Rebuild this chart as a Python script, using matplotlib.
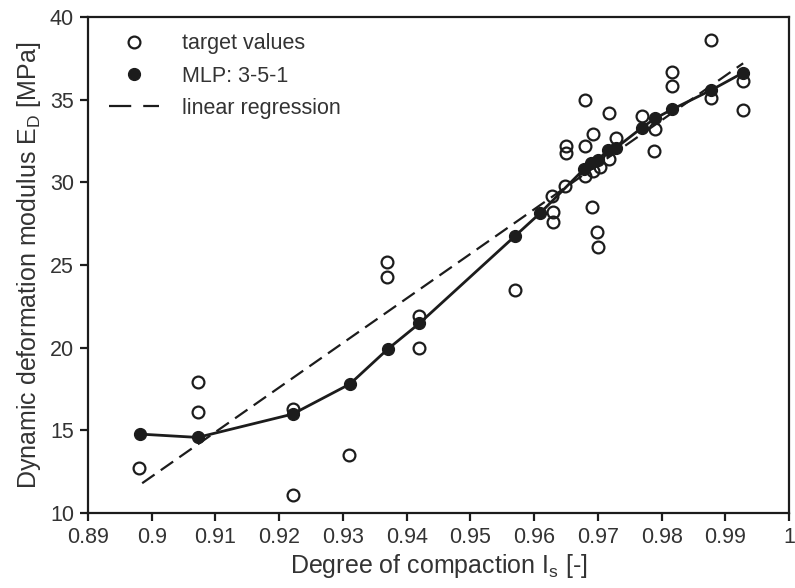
import matplotlib.pyplot as plt
from matplotlib.lines import Line2D
import numpy as np

plt.rcParams['font.family'] = 'Liberation Sans'
plt.rcParams['mathtext.fontset'] = 'custom'
plt.rcParams['mathtext.rm'] = 'Liberation Sans'
plt.rcParams['mathtext.it'] = 'Liberation Sans'

# target values (measured)
target_x = [0.898, 0.9072, 0.9072, 0.9221, 0.9221, 0.931, 0.9369, 0.9369, 0.9419, 0.9419,
            0.957, 0.9628, 0.963, 0.963, 0.9648, 0.965, 0.965, 0.968, 0.968, 0.968,
            0.9691, 0.9692, 0.9692, 0.9698, 0.970, 0.9703, 0.9718, 0.9718, 0.9729, 0.977,
            0.9789, 0.9788, 0.9817, 0.9817, 0.9878, 0.9878, 0.9928, 0.9928]
target_y = [12.7, 17.9, 16.1, 16.3, 11.1, 13.5, 25.2, 24.3, 21.9, 20.0,
            23.5, 29.2, 28.2, 27.6, 29.8, 32.2, 31.8, 35.0, 32.2, 30.4,
            28.5, 32.9, 30.7, 27.0, 26.1, 30.9, 34.2, 31.4, 32.7, 34.0,
            33.2, 31.9, 36.7, 35.8, 38.6, 35.1, 36.1, 34.4]

# MLP 3-5-1 outputs
mlp_x = [0.8982, 0.9072, 0.9221, 0.9311, 0.937, 0.942, 0.957, 0.9609, 0.9678, 0.969,
         0.970, 0.9716, 0.9729, 0.9769, 0.979, 0.9817, 0.9878, 0.9928]
mlp_y = [14.77, 14.57, 15.98, 17.8, 19.9, 21.47, 26.75, 28.12, 30.79, 31.15,
         31.35, 31.95, 32.1, 33.3, 33.87, 34.42, 35.58, 36.63]

# linear regression end points
reg_x = [0.8985, 0.9928]
reg_y = [11.8, 37.2]

ink = '#1c1c1c'
txt = '#333333'

fig = plt.figure(figsize=(7.95, 5.88), dpi=100)
ax = fig.add_axes([0.1107, 0.1276, 0.8818, 0.8435])

ax.plot(reg_x, reg_y, color=ink, linewidth=1.6, dashes=(6.8, 3.4))
ax.plot(mlp_x, mlp_y, color=ink, linewidth=2.0, zorder=3)
ax.plot(mlp_x, mlp_y, 'o', color=ink, markersize=8.5, zorder=4)
ax.plot(target_x, target_y, 'o', markerfacecolor='none', markeredgecolor=ink,
        markeredgewidth=1.6, markersize=8.5, zorder=5)

ax.set_xlim(0.89, 1.0)
ax.set_ylim(10, 40)
ax.set_xticks(np.arange(0.89, 1.0001, 0.01))
ax.set_xticklabels(['0.89', '0.9', '0.91', '0.92', '0.93', '0.94', '0.95', '0.96',
                    '0.97', '0.98', '0.99', '1'])
ax.set_yticks([10, 15, 20, 25, 30, 35, 40])

for s in ax.spines.values():
    s.set_linewidth(1.6)
    s.set_color(ink)
ax.tick_params(direction='out', length=6, width=1.6, color=ink, labelsize=15.5,
               labelcolor=txt, pad=4)

ax.set_xlabel(r'Degree of compaction I$_\mathregular{s}$ [-]', fontsize=18, color=txt, labelpad=3)
ax.set_ylabel(r'Dynamic deformation modulus E$_\mathregular{D}$ [MPa]', fontsize=18,
              color=txt, labelpad=5)

# legend proxies
h_target = Line2D([], [], linestyle='none', marker='o', markerfacecolor='none',
                  markeredgecolor=ink, markeredgewidth=1.6, markersize=8.5)
h_mlp = Line2D([], [], linestyle='none', marker='o', color=ink, markersize=8.5)
h_reg = Line2D([], [], color=ink, linewidth=1.6, dashes=(10, 5.4))
leg = ax.legend([h_target, h_mlp, h_reg], ['target values', 'MLP: 3-5-1', 'linear regression'],
                loc='upper left', frameon=False, fontsize=15.5, handlelength=2.3,
                handletextpad=1.1, labelspacing=0.52, borderpad=0, borderaxespad=0,
                bbox_to_anchor=(0.03, 0.967))
for t in leg.get_texts():
    t.set_color(txt)

fig.savefig('out.png', dpi=100)
